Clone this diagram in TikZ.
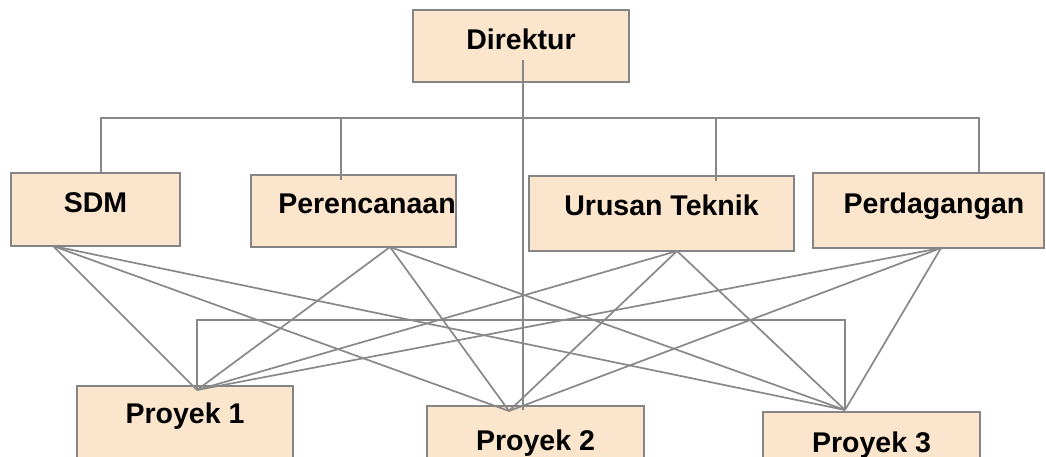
\documentclass[tikz,border=0pt]{standalone}
\usepackage{fontspec}
\setmainfont{Liberation Sans}
\definecolor{boxfill}{HTML}{FCE5CD}
\definecolor{boxline}{HTML}{858585}
\definecolor{linkgray}{HTML}{888888}
\begin{document}
\begin{tikzpicture}[x=1pt,y=-1pt,
  unitbox/.style={draw=boxline, fill=boxfill, line width=1.8pt, anchor=north west,
    inner xsep=0pt, inner ysep=0pt, outer sep=0pt,
    font=\fontsize{28.5}{30}\selectfont\bfseries},
  link/.style={draw=linkgray, line width=1.7pt}]
\useasboundingbox (0,0) rectangle (1046,457);
\clip (0,0) rectangle (1046,457);

% top level
\node[unitbox, minimum width=216pt, text height=40pt, text depth=32pt] (dir) at (413,10) {Direktur};

% departments
\node[unitbox, minimum width=169pt, text height=39pt, text depth=34pt] (sdm) at (11,173) {SDM};
\node[unitbox, minimum width=205pt, text height=38pt, text depth=34pt] (plan) at (251,175) {\hspace*{27pt}Perencanaan};
\node[unitbox, minimum width=265pt, text height=39pt, text depth=36pt] (tek) at (529,176) {Urusan Teknik};
\node[unitbox, minimum width=231pt, text height=41pt, text depth=34pt] (dag) at (813,173) {\hspace*{11pt}Perdagangan};

% projects
\node[unitbox, minimum width=216pt, text height=37pt, text depth=60pt] (p1) at (77,386) {Proyek 1};
\node[unitbox, minimum width=217pt, text height=44pt, text depth=40pt] (p2) at (427,406) {Proyek 2};
\node[unitbox, minimum width=217pt, text height=40pt, text depth=40pt] (p3) at (763,412) {Proyek 3};

% attachment points
\coordinate (sdm-foot) at ([xshift=-42.5pt]sdm.south);
\coordinate (plan-foot) at ([xshift=36.5pt]plan.south);
\coordinate (tek-foot) at ([xshift=15.5pt]tek.south);
\coordinate (dag-foot) at ([xshift=12.5pt]dag.south);
\coordinate (p1-head) at ([xshift=12pt,yshift=-4pt]p1.north);
\coordinate (p2-head) at ([xshift=-26.5pt,yshift=-5pt]p2.north);
\coordinate (p3-head) at ([xshift=-26.5pt,yshift=2pt]p3.north);

% department bus
\draw[link] ([xshift=5.5pt]sdm.north) -- ++(0,-55) -| ([xshift=50.5pt]dag.north);
\draw[link] ([xshift=-12.5pt,yshift=-5pt]plan.north) -- ++(0,-62);
\draw[link] ([xshift=54.5pt,yshift=-5pt]tek.north) -- ++(0,-63);

% project bus
\draw[link] (p1-head) -- ++(0,-70) -| (p3-head);

% director line down to the projects
\draw[link] ([xshift=2pt,yshift=-50pt]dir.north) -- ([xshift=-12.5pt,yshift=-4pt]p2.north);

% every department to every project
\foreach \d in {sdm,plan,tek,dag}
  \foreach \p in {p1,p2,p3}
    \draw[link] (\d-foot) -- (\p-head);
\end{tikzpicture}
\end{document}
